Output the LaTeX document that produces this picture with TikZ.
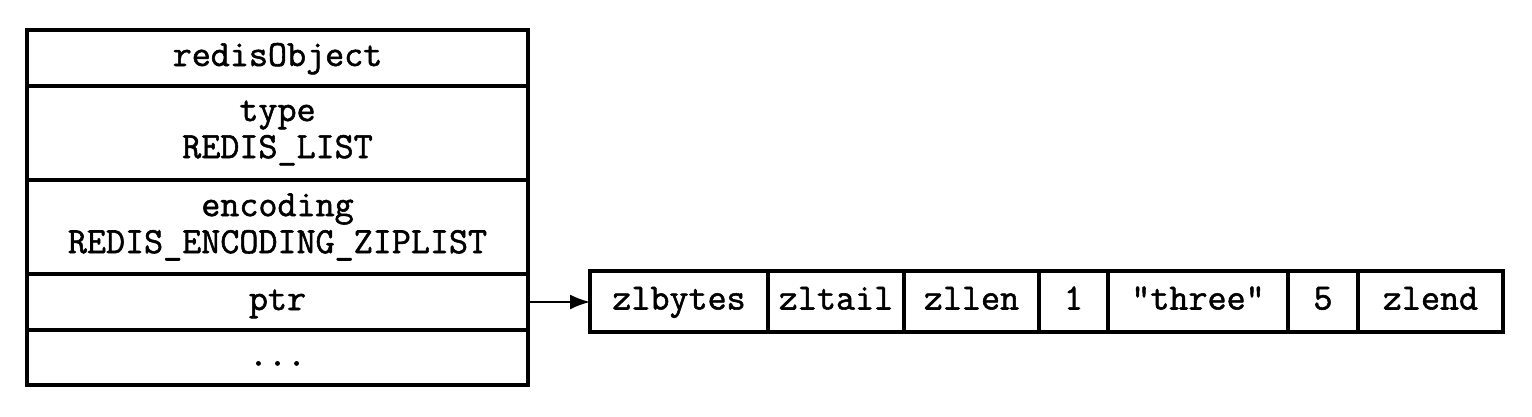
\documentclass[tikz,border=0pt]{standalone}
\usepackage{fontspec}
\newfontfamily\codefont{Latin Modern Mono}[RawFeature={embolden=1.5}]
\usetikzlibrary{arrows.meta}
\tikzset{
  cell/.style={draw, line width=3.2pt, inner sep=0pt, outer sep=0pt, anchor=north west,
    align=center, font=\codefont\fontsize{37}{37}\selectfont},
  one/.style={text height=23pt, text depth=7pt},
  link/.style={line width=2pt, -{Latex[length=20pt,width=15pt]}}
}
\begin{document}
\begin{tikzpicture}[x=1pt,y=-1pt]
\useasboundingbox (0,0) rectangle (1532,416);
% redisObject
\node[cell, one, minimum width=501pt, minimum height=56pt] (ro) at (27,30) {redisObject};
\node[cell, minimum width=501pt, minimum height=94pt] (type) at (27,86) {type\\REDIS\_LIST};
\node[cell, minimum width=501pt, minimum height=94pt] (enc) at (27,180) {encoding\\REDIS\_ENCODING\_ZIPLIST};
\node[cell, one, minimum width=501pt, minimum height=56pt] (ptr) at (27,274) {ptr};
\node[cell, one, minimum width=501pt, minimum height=55pt] (more) at (27,330) {...};
% ziplist
\node[cell, one, minimum width=178pt, minimum height=61pt] (zlbytes) at (590,271) {zlbytes};
\node[cell, one, minimum width=136pt, minimum height=61pt] (zltail) at (768,271) {zltail};
\node[cell, one, minimum width=135pt, minimum height=61pt] (zllen) at (904,271) {zllen};
\node[cell, one, minimum width=69pt, minimum height=61pt] (e1) at (1039,271) {1};
\node[cell, one, minimum width=180pt, minimum height=61pt] (e2) at (1108,271) {"three"};
\node[cell, one, minimum width=70pt, minimum height=61pt] (e3) at (1288,271) {5};
\node[cell, one, minimum width=145pt, minimum height=61pt] (zlend) at (1358,271) {zlend};
\draw[link] (ptr.east) -- (zlbytes.west |- ptr.east);
\end{tikzpicture}
\end{document}
